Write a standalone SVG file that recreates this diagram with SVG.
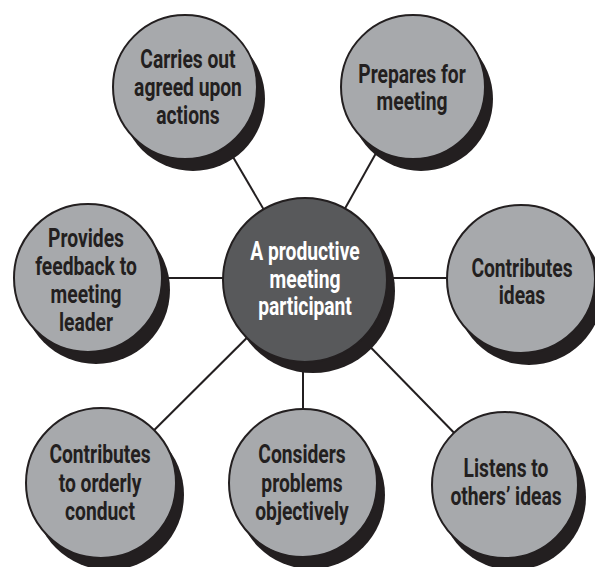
<svg xmlns="http://www.w3.org/2000/svg" width="595" height="567" viewBox="0 0 595 567">
<style>
.bg{fill:#ffffff}
.lnk{stroke:#231f20;stroke-width:2;fill:none}
.sh{fill:#231f20}
.out{fill:#a7a9ac;stroke:#231f20;stroke-width:2}
.ctr{fill:#58595b;stroke:#231f20;stroke-width:2}
.t{font-family:Roboto,"Liberation Sans",sans-serif;font-weight:bold;font-size:25px;text-anchor:middle;fill:#231f20}
.tw{fill:#ffffff}
</style>
<rect class="bg" x="0" y="0" width="595" height="567"/>
<g id="connectors">
<line class="lnk" x1="305" y1="280" x2="192" y2="87"/>
<line class="lnk" x1="305" y1="280" x2="413" y2="87"/>
<line class="lnk" x1="88" y1="278" x2="305" y2="278"/>
<line class="lnk" x1="305" y1="278" x2="521" y2="278"/>
<line class="lnk" x1="305" y1="280" x2="101" y2="483"/>
<line class="lnk" x1="303" y1="280" x2="303" y2="483"/>
<line class="lnk" x1="305" y1="280" x2="505" y2="485"/>
</g>
<g id="center">
<circle class="sh" cx="313" cy="291" r="82"/>
<circle class="ctr" cx="305" cy="280" r="82"/>
<text class="t tw" transform="translate(305 0) scale(0.77 1)"><tspan x="0" y="260">A productive</tspan><tspan x="0" y="288">meeting</tspan><tspan x="0" y="315">participant</tspan></text>
</g>
<g id="carries">
<circle class="sh" cx="193" cy="99" r="72"/>
<circle class="out" cx="185" cy="87" r="72"/>
<text class="t" transform="translate(188 0) scale(0.77 1)"><tspan x="0" y="68">Carries out</tspan><tspan x="0" y="96">agreed upon</tspan><tspan x="0" y="124">actions</tspan></text>
</g>
<g id="prepares">
<circle class="sh" cx="421" cy="99" r="72"/>
<circle class="out" cx="413" cy="87" r="72"/>
<text class="t" transform="translate(412 0) scale(0.77 1)"><tspan x="0" y="83">Prepares for</tspan><tspan x="0" y="110">meeting</tspan></text>
</g>
<g id="provides">
<circle class="sh" cx="96" cy="290" r="74"/>
<circle class="out" cx="88" cy="278" r="74"/>
<text class="t" transform="translate(86 0) scale(0.77 1)"><tspan x="0" y="247">Provides</tspan><tspan x="0" y="275">feedback to</tspan><tspan x="0" y="303">meeting</tspan><tspan x="0" y="331">leader</tspan></text>
</g>
<g id="ideas">
<circle class="sh" cx="529" cy="291" r="74"/>
<circle class="out" cx="521" cy="279" r="74"/>
<text class="t" transform="translate(522 0) scale(0.77 1)"><tspan x="0" y="277">Contributes</tspan><tspan x="0" y="304">ideas</tspan></text>
</g>
<g id="orderly">
<circle class="sh" cx="109" cy="495" r="75"/>
<circle class="out" cx="101" cy="483" r="75"/>
<text class="t" transform="translate(100 0) scale(0.77 1)"><tspan x="0" y="463">Contributes</tspan><tspan x="0" y="492">to orderly</tspan><tspan x="0" y="520">conduct</tspan></text>
</g>
<g id="considers">
<circle class="sh" cx="311" cy="495" r="74"/>
<circle class="out" cx="303" cy="483" r="74"/>
<text class="t" transform="translate(302 0) scale(0.77 1)"><tspan x="0" y="463">Considers</tspan><tspan x="0" y="492">problems</tspan><tspan x="0" y="520">objectively</tspan></text>
</g>
<g id="listens">
<circle class="sh" cx="513" cy="497" r="73"/>
<circle class="out" cx="505" cy="485" r="73"/>
<text class="t" transform="translate(506 0) scale(0.77 1)"><tspan x="0" y="477">Listens to</tspan><tspan x="0" y="505">others’ ideas</tspan></text>
</g>
</svg>
